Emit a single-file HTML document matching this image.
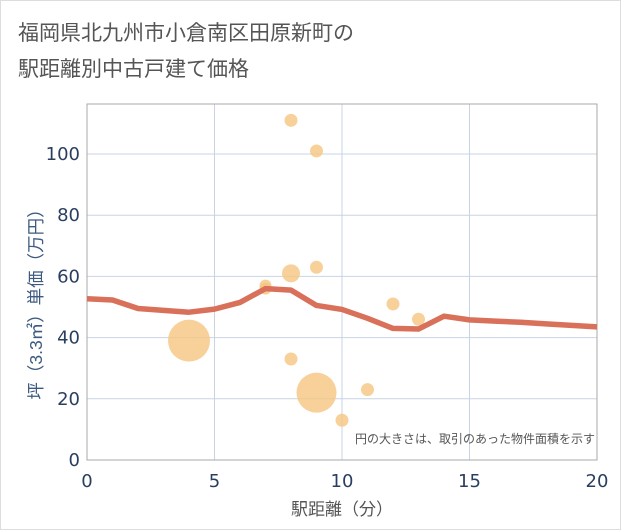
<!DOCTYPE html>
<html><head><meta charset="utf-8"><style>
body{margin:0;background:#fff;}
svg{display:block;font-family:"Liberation Sans","Noto Sans CJK JP",sans-serif;}
</style></head><body>
<svg id="chart" width="621" height="530">
<rect x="0.5" y="0.5" width="620" height="529" fill="#fff" stroke="#ddd"/>
<text x="18" y="40" font-size="21" fill="#555">福岡県北九州市小倉南区田原新町の</text>
<text x="18" y="76" font-size="21" fill="#555">駅距離別中古戸建て価格</text>
<g id="grid"></g>
<rect x="87" y="104" width="510" height="356" fill="none" stroke="#aaa"/>
<g id="bubbles"></g>
<polyline id="trend" fill="none" stroke="#d9705a" stroke-width="5.5" stroke-linejoin="round"/>
<g id="ticks"></g>
<text x="595" y="443" font-size="12" fill="#555" text-anchor="end">円の大きさは、取引のあった物件面積を示す</text>
<text x="342" y="515" font-size="17" fill="#555" text-anchor="middle">駅距離（分）</text>
<text transform="translate(42,300) rotate(-90)" font-size="17.5" fill="#3d5a80" text-anchor="middle">坪（3.3㎡）単価（万円）</text>
</svg>
<script>
const xTicks=[0,5,10,15,20];
const yTicks=[0,20,40,60,80,100];
const trendX=[0,1,2,3,4,5,6,7,8,9,10,11,12,13,14,15,16,17,18,19,20];
const trendY=[52.7,52.3,49.5,48.9,48.3,49.3,51.5,56,55.5,50.5,49.2,46.3,43,42.8,47,45.8,45.4,45,44.5,44,43.5];
const ptX=[4,7,7,8,8,8,9,9,9,10,11,12,13];
const ptY=[39,57,56,111,61,33,101,63,22,13,23,51,46];
const ptR=[21,6,6,6.5,9,6.5,6.5,6.5,20,6.5,6.5,6.5,6.5];
const NS="http://www.w3.org/2000/svg";
const X=v=>87+v*25.5, Y=v=>460-v*3.06;
const grid=document.getElementById('grid'),ticks=document.getElementById('ticks'),bub=document.getElementById('bubbles');
function mk(t,a,p){const e=document.createElementNS(NS,t);for(const k in a)e.setAttribute(k,a[k]);p.appendChild(e);return e;}
xTicks.forEach(v=>{
 const l=mk('line',{x1:X(v),x2:X(v),y1:104,y2:460,stroke:'#c8d4e3'},grid);
 
 
 const t=mk('text',{x:X(v),y:487,'font-size':18,fill:'#2a3f5f','text-anchor':'middle','font-family':'DejaVu Sans, sans-serif'},ticks);
 t.textContent=v;
 
 
});
yTicks.forEach(v=>{
 const l=mk('line',{x1:87,x2:597,y1:Y(v),y2:Y(v),stroke:'#c8d4e3'},grid);
 
 
 const t=mk('text',{x:80,y:Y(v)+6,'font-size':18,fill:'#2a3f5f','text-anchor':'end','font-family':'DejaVu Sans, sans-serif'},ticks);
 t.textContent=v;
 
 
});
ptX.forEach((v,i)=>{
 const c=mk('circle',{cx:X(v),cy:Y(ptY[i]),r:ptR[i],fill:'#f5c57f','fill-opacity':0.8},bub);
 
 
});
document.getElementById('trend').setAttribute('points',trendX.map((v,i)=>X(v)+','+Y(trendY[i])).join(' '));
</script>
</body></html>
